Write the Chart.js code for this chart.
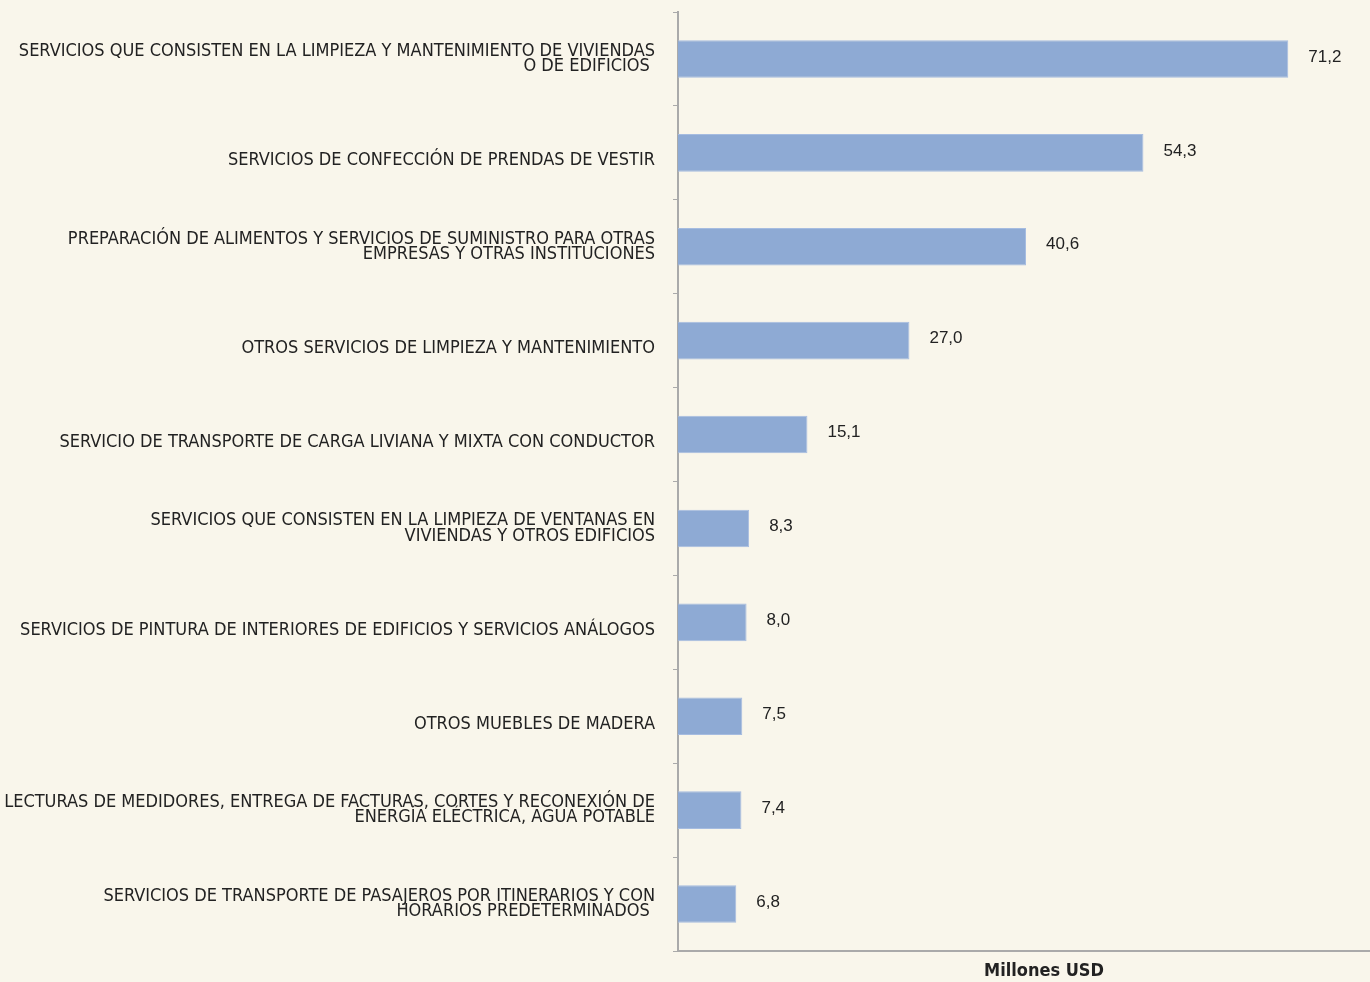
<!DOCTYPE html>
<html>
<head>
<meta charset="utf-8">
<script src="https://cdn.jsdelivr.net/npm/chart.js@4.4.1/dist/chart.umd.min.js"></script>
<style>
  html, body { margin: 0; padding: 0; background: #f9f6eb; overflow: hidden; }
  #wrap { width: 1410px; height: 982px; }
</style>
</head>
<body>
<div id="wrap"><canvas id="chart"></canvas></div>
<script>
// categories (multi-line labels as arrays)
const categories = [
  ["SERVICIOS QUE CONSISTEN EN LA LIMPIEZA Y MANTENIMIENTO DE VIVIENDAS", "O DE EDIFICIOS "],
  "SERVICIOS DE CONFECCIÓN DE PRENDAS DE VESTIR",
  ["PREPARACIÓN DE ALIMENTOS Y SERVICIOS DE SUMINISTRO PARA OTRAS", "EMPRESAS Y OTRAS INSTITUCIONES"],
  "OTROS SERVICIOS DE LIMPIEZA Y MANTENIMIENTO",
  "SERVICIO DE TRANSPORTE DE CARGA LIVIANA Y MIXTA CON CONDUCTOR",
  ["SERVICIOS QUE CONSISTEN EN LA LIMPIEZA DE VENTANAS EN", "VIVIENDAS Y OTROS EDIFICIOS"],
  "SERVICIOS DE PINTURA DE INTERIORES DE EDIFICIOS Y SERVICIOS ANÁLOGOS",
  "OTROS MUEBLES DE MADERA",
  ["LECTURAS DE MEDIDORES, ENTREGA DE FACTURAS, CORTES Y RECONEXIÓN DE", "ENERGÍA ELÉCTRICA, AGUA POTABLE"],
  ["SERVICIOS DE TRANSPORTE DE PASAJEROS POR ITINERARIOS Y CON", "HORARIOS PREDETERMINADOS "]
];
const values = [71.2, 54.3, 40.6, 27.0, 15.1, 8.3, 8.0, 7.5, 7.4, 6.8];
const axisTitle = "Millones USD";

// single-line labels sit a bit below the bar centre in the original
const tickLabels = categories.map(c => Array.isArray(c) ? c : ["", c]);

const narrow = "'Liberation Sans Narrow', 'DejaVu Sans Condensed', 'Arial Narrow', sans-serif";

// draws the value next to each bar
const valueLabels = {
  id: "valueLabels",
  afterDatasetsDraw(chart) {
    const ctx = chart.ctx;
    const meta = chart.getDatasetMeta(0);
    ctx.save();
    ctx.font = "17px 'Liberation Sans', Arial, sans-serif";
    ctx.fillStyle = "#222";
    ctx.textBaseline = "middle";
    ctx.textAlign = "left";
    meta.data.forEach((bar, i) => {
      ctx.fillText(values[i].toFixed(1).replace(".", ","), bar.x + 20, bar.y - 2);
    });
    ctx.restore();
  }
};

new Chart(document.getElementById("chart"), {
  type: "bar",
  data: {
    labels: tickLabels,
    datasets: [{
      data: values,
      backgroundColor: "#8eaad4",
      borderColor: "#a6bce0",
      borderWidth: 1,
      barPercentage: 0.4,
      categoryPercentage: 1
    }]
  },
  options: {
    indexAxis: "y",
    responsive: true,
    maintainAspectRatio: false,
    animation: false,
    layout: { padding: { top: 12, right: 0, left: 0, bottom: 0 } },
    plugins: { legend: { display: false }, tooltip: { enabled: false } },
    scales: {
      x: {
        min: 0,
        max: 85.4,
        ticks: { display: false },
        grid: { display: false },
        border: { color: "#aaa", width: 2 },
        title: {
          display: true,
          text: axisTitle,
          color: "#222",
          font: { family: narrow, size: 18, weight: "bold" },
          padding: { top: 8, bottom: 0 }
        },
        afterFit(scale) { scale.height = 31; scale.paddingLeft = 0; scale.paddingRight = 0; }
      },
      y: {
        ticks: {
          color: "#222",
          padding: 18,
          font: { family: narrow, size: 18, lineHeight: 0.85 }
        },
        grid: { drawOnChartArea: false, tickLength: 5, color: "#aaa", offset: true },
        border: { color: "#aaa", width: 2 },
        afterFit(scale) { scale.width = 678; scale.paddingTop = 0; scale.paddingBottom = 0; }
      }
    }
  },
  plugins: [valueLabels]
});
</script>
</body>
</html>
